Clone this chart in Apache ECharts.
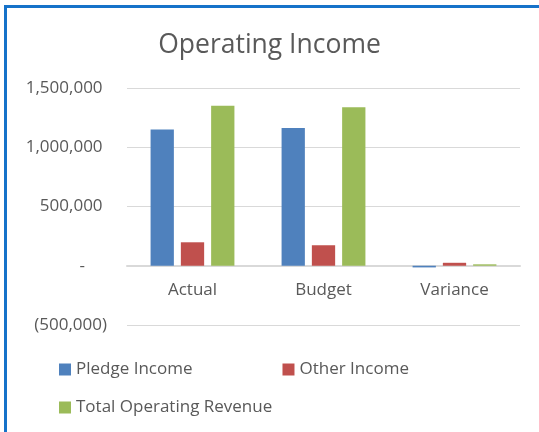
<!DOCTYPE html>
<html>
<head>
<meta charset="utf-8">
<script src="https://cdn.jsdelivr.net/npm/echarts@6/dist/echarts.min.js"></script>
<style>
  html, body { margin: 0; padding: 0; background: #fff; }
  #echart { width: 539px; height: 432px; }
</style>
</head>
<body>
<div id="echart"></div>
<script>
const categories = ['Actual', 'Budget', 'Variance']
const pledgeIncome = [1149000, 1163000, -14000]
const otherIncome = [198000, 173000, 25000]
const totalRevenue = [1350000, 1338000, 12000]
const yTicks = [-500000, 0, 500000, 1000000, 1500000]

const font = 'Open Sans'
const textColor = '#595959'

function fmt (v) {
  if (v === 0) return '-     '
  const s = Math.abs(v).toLocaleString('en-US')
  return v < 0 ? '(' + s + ')' : s + ' '
}

const myChart = echarts.init(document.getElementById('echart'))
const option = {
  backgroundColor: '#fff',
  textStyle: { fontFamily: font },
  title: {
    text: 'Operating Income',
    left: 'center',
    top: 27,
    textStyle: { fontFamily: font, fontSize: 26.5, fontWeight: 'normal', color: textColor }
  },
  graphic: [
    {
      type: 'polyline',
      shape: { points: [[5.5, 432], [5.5, 6.5], [539, 6.5]] },
      style: { stroke: '#1672C9', lineWidth: 3, fill: null }
    }
  ],
  legend: [
    {
      data: ['Pledge Income', 'Other Income'],
      left: 59,
      top: 361,
      padding: 0,
      itemWidth: 12,
      itemHeight: 12,
      itemGap: 90,
      icon: 'rect',
      textStyle: { fontFamily: font, fontSize: 17, color: textColor }
    },
    {
      data: ['Total Operating Revenue'],
      left: 59,
      top: 399,
      padding: 0,
      itemWidth: 12,
      itemHeight: 12,
      icon: 'rect',
      textStyle: { fontFamily: font, fontSize: 17, color: textColor }
    }
  ],
  grid: { left: 127, right: 19, top: 88, bottom: 107 },
  xAxis: {
    type: 'category',
    data: categories,
    axisLine: { onZero: true, lineStyle: { color: '#D9D9D9', width: 2 } },
    axisTick: { show: false },
    axisLabel: { fontFamily: font, fontSize: 17, color: textColor, margin: -43 }
  },
  yAxis: {
    type: 'value',
    min: yTicks[0],
    max: yTicks[yTicks.length - 1],
    interval: 500000,
    axisLine: { show: false },
    axisTick: { show: false },
    splitLine: { lineStyle: { color: '#D9D9D9', width: 1 } },
    axisLabel: { fontFamily: font, fontSize: 17, color: textColor, margin: 20, formatter: fmt }
  },
  series: [
    {
      name: 'Pledge Income',
      type: 'bar',
      data: pledgeIncome,
      itemStyle: { color: '#4F81BD' },
      barGap: '30%',
      barCategoryGap: '36%'
    },
    {
      name: 'Other Income',
      type: 'bar',
      data: otherIncome,
      itemStyle: { color: '#C0504D' }
    },
    {
      name: 'Total Operating Revenue',
      type: 'bar',
      data: totalRevenue,
      itemStyle: { color: '#9BBB59' }
    }
  ]
}
myChart.setOption(option)
</script>
</body>
</html>
